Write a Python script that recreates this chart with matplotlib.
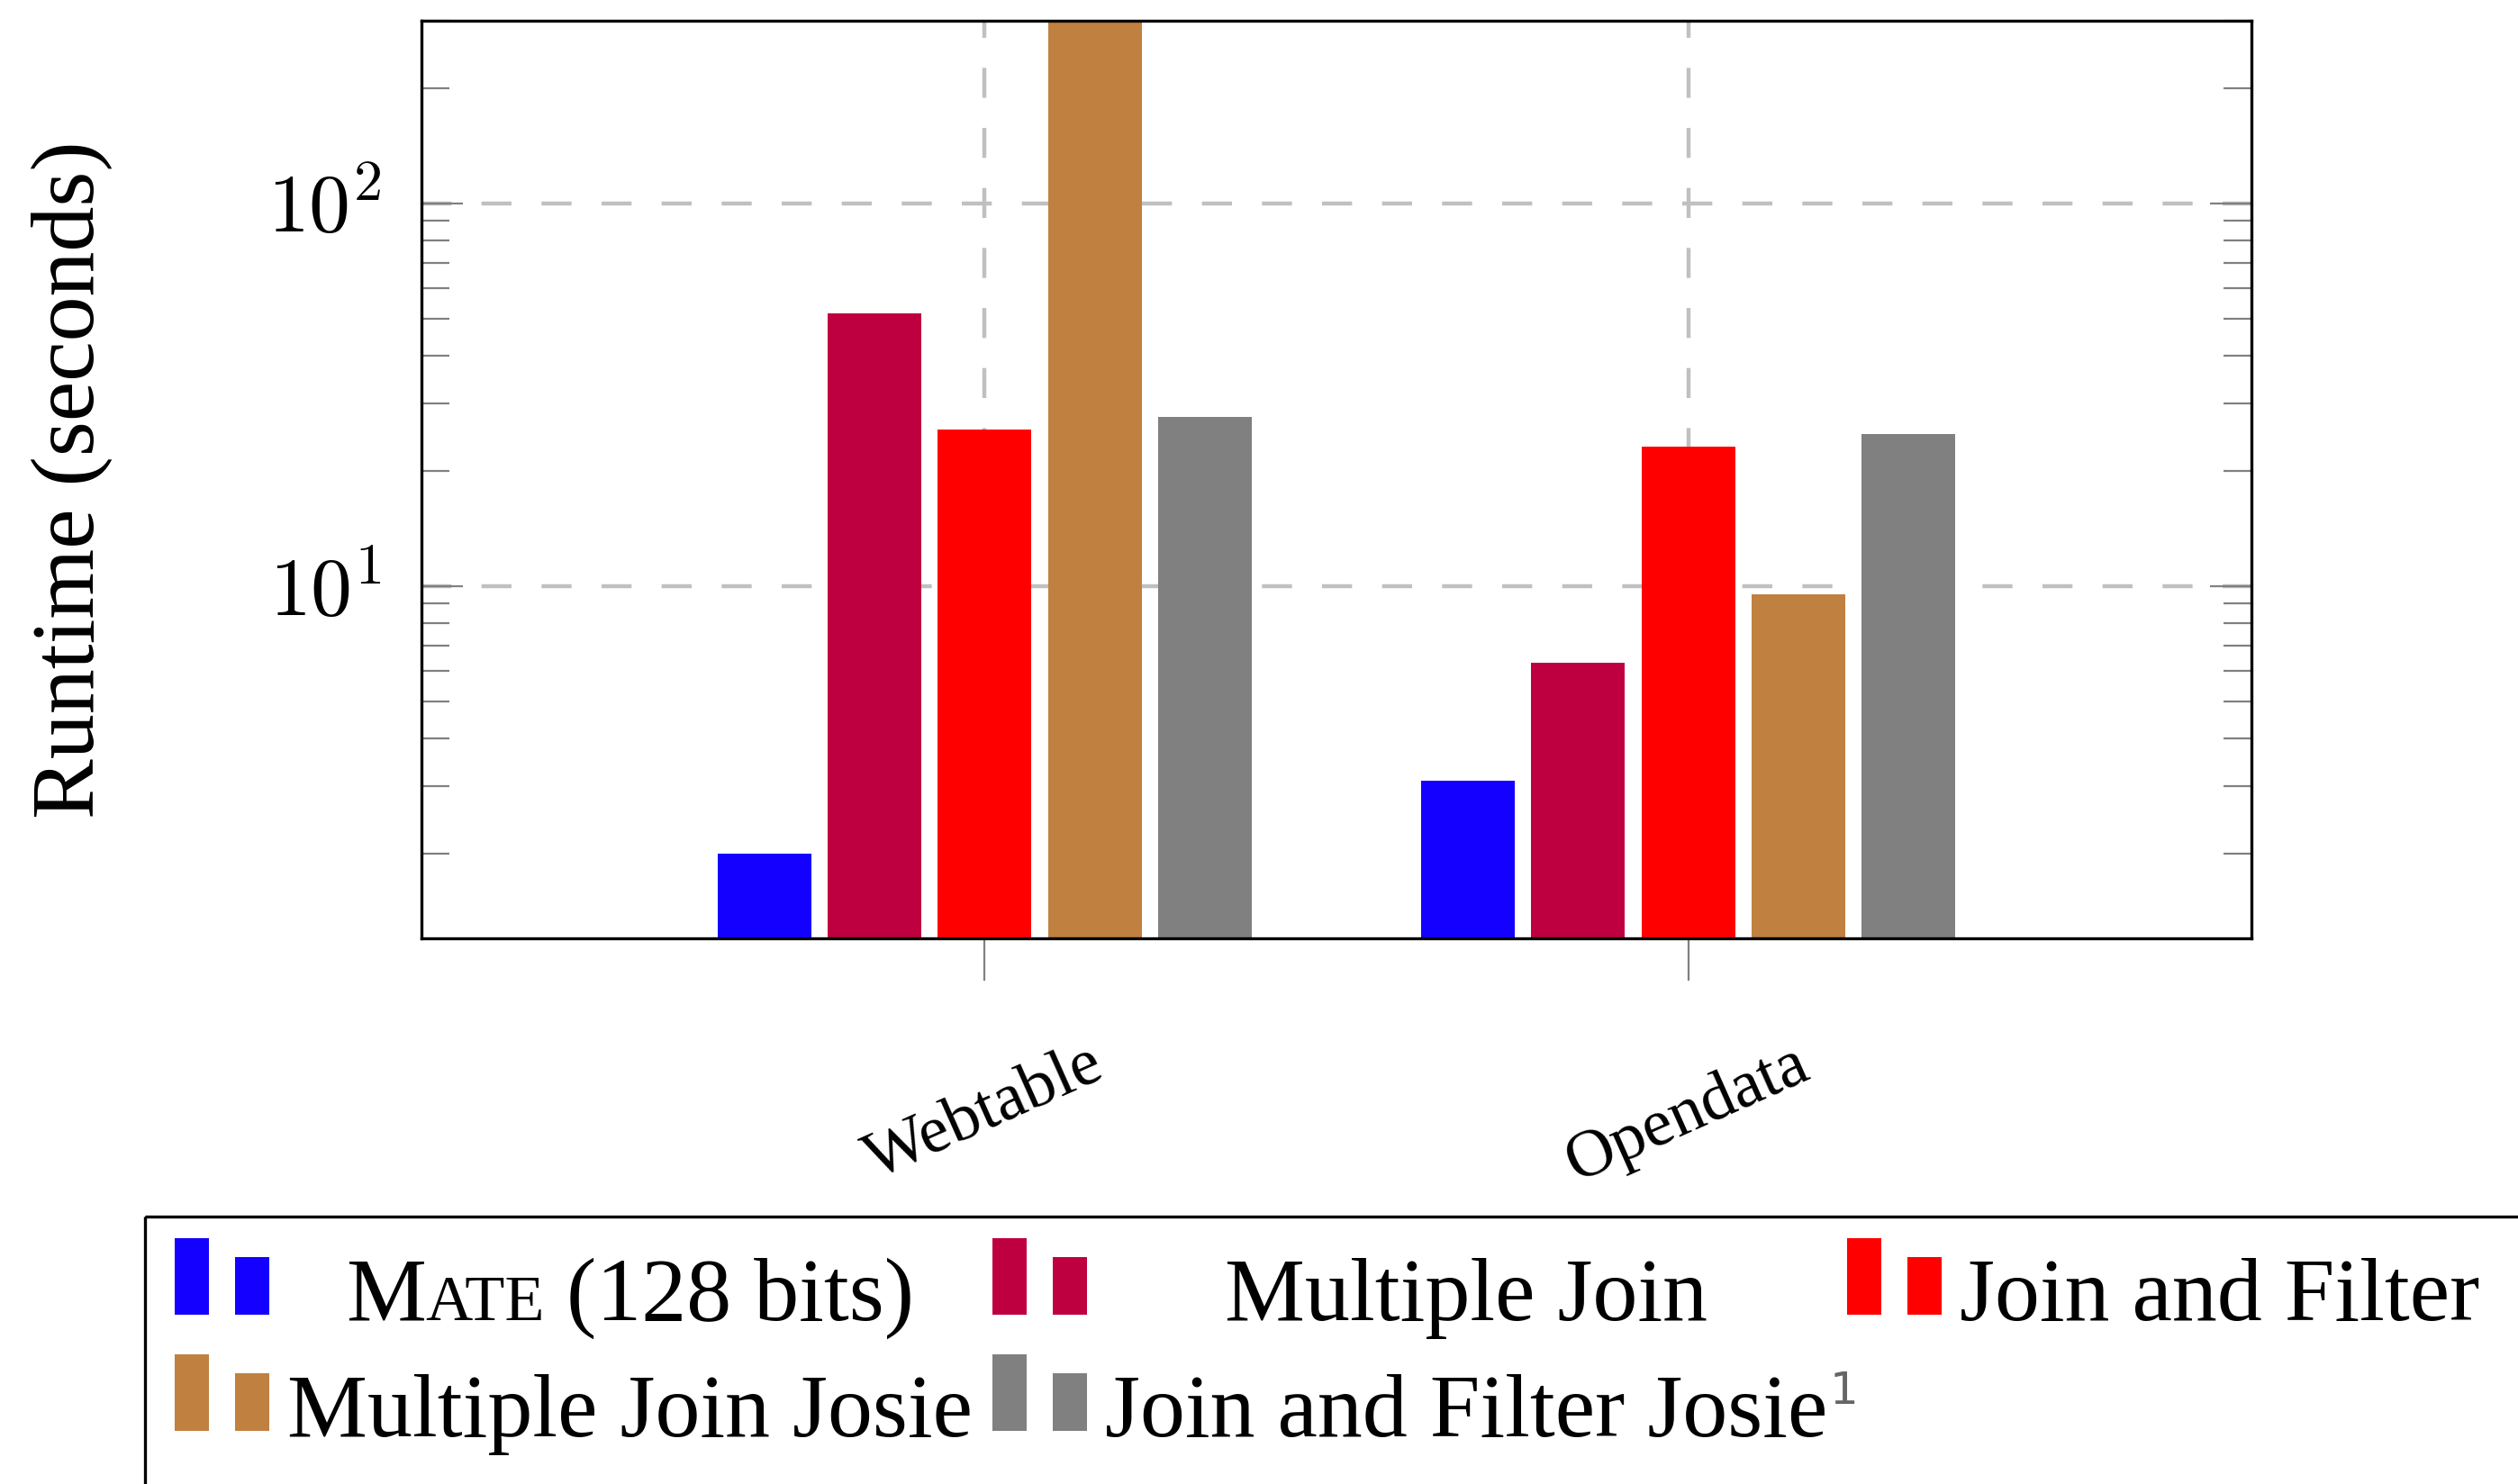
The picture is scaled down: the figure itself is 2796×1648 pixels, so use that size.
import matplotlib
matplotlib.use("Agg")
import matplotlib.pyplot as plt
import numpy as np
from matplotlib.patches import Rectangle
from matplotlib.ticker import LogLocator, FuncFormatter, NullFormatter

# data (runtime in seconds, log scale)
datasets = ["Webtable", "Opendata"]
mate = [2.0, 3.1]
multiple_join = [51.7, 6.3]
join_filter = [25.6, 23.1]
multiple_join_josie = [300.0, 9.5]
join_filter_josie = [27.6, 24.9]

legend_labels = ["Mate (128 bits)", "Multiple Join", "Join and Filter",
                 "Multiple Join Josie", "Join and Filter Josie"]
legend_marks = ["", "", "", "", "1"]
series_colors = ["#1400ff", "#bf0040", "#ff0000", "#bf8040", "#808080"]

W, H, DPI = 2796, 1648, 200
plt.rcParams["font.family"] = ["Liberation Serif", "DejaVu Serif"]
plt.rcParams["mathtext.fontset"] = "cm"

fig = plt.figure(figsize=(W / DPI, H / DPI), dpi=DPI)
ax = fig.add_axes([468 / W, 1 - 1042 / H, 2032 / W, 1019 / H])

series = [mate, multiple_join, join_filter, multiple_join_josie, join_filter_josie]
x = np.arange(len(datasets))
step, width = 0.1565, 0.133
for i, (vals, col) in enumerate(zip(series, series_colors)):
    ax.bar(x + (i - 2) * step, vals, width, color=col, zorder=2)

ax.set_yscale("log")
ax.set_ylim(1.2, 300)
ax.set_xlim(-0.8, 1.8)
ax.yaxis.set_major_locator(LogLocator(base=10))
ax.yaxis.set_minor_locator(LogLocator(base=10, subs=np.arange(2, 10)))
ax.yaxis.set_major_formatter(FuncFormatter(lambda v, p: r"$10^{%d}$" % round(np.log10(v))))
ax.yaxis.set_minor_formatter(NullFormatter())
ax.set_xticks(x, datasets, rotation=24, fontsize=27)

ax.set_axisbelow(True)
ax.grid(True, which="major", color="#c0c0c0", linewidth=1.6, linestyle=(0, (7.5, 7.5)))

ax.tick_params(axis="y", which="both", direction="in", left=True, right=True,
               color="#808080", labelsize=33, pad=16)
ax.tick_params(axis="y", which="major", length=16.5, width=0.8)
ax.tick_params(axis="y", which="minor", length=11, width=0.8)
ax.tick_params(axis="x", direction="out", length=17, width=0.8, color="#808080", pad=21)
for sp in ax.spines.values():
    sp.set_linewidth(1.2)
    sp.set_color("black")

ax.set_ylabel("Runtime (seconds)", fontsize=36, va="center")
ax.yaxis.set_label_coords((80 - 468) / 2032, 0.5)

# legend, drawn by hand in pixel coordinates (pgfplots style, clipped by the figure edge)
lax = fig.add_axes([0, 0, 1, 1], zorder=3)
lax.set_xlim(0, W)
lax.set_ylim(H, 0)
lax.axis("off")
lax.add_patch(Rectangle((161, 1351), 3000, 600, fill=False, ec="black", lw=1.2))

renderer = fig.canvas.get_renderer()


def build_label(label, baseline):
    if label.startswith("Mate"):
        pieces = [("M", 36, 0), ("ATE", 26, 24), (label[5:], 36, 0)]
    else:
        pieces = [(label, 36, 0)]
    arts, cur = [], 0.0
    for txt, size, gap in pieces:
        t = lax.text(cur, baseline, txt, fontsize=size, va="baseline", ha="left")
        arts.append(t)
        cur += t.get_window_extent(renderer).width + gap
    return arts, cur


ncol = 3
row_bottoms = [1460, 1589]
built = []
for k, lab in enumerate(legend_labels):
    r = k // ncol
    built.append(build_label(lab, row_bottoms[r] + 6))

icon_left = 194
for c in range(ncol):
    entries = [k for k in range(len(legend_labels)) if k % ncol == c]
    maxw = max(built[k][1] for k in entries)
    text_left = icon_left + 105 + 20
    for k in entries:
        r = k // ncol
        bottom = row_bottoms[r]
        col = series_colors[k]
        lax.add_patch(Rectangle((icon_left, bottom - 85), 38, 85, color=col, lw=0))
        lax.add_patch(Rectangle((icon_left + 67, bottom - 64), 38, 64, color=col, lw=0))
        arts, w = built[k]
        off = text_left + (maxw - w) / 2
        for t in arts:
            px, py = t.get_position()
            t.set_x(px + off)
        if legend_marks[k]:
            lax.text(off + w + 2, bottom + 6 - 36, legend_marks[k], fontsize=18,
                     color="#666666", family="DejaVu Sans", va="baseline", ha="left")
    icon_left = text_left + maxw + 22

fig.savefig("out.png", dpi=DPI)
